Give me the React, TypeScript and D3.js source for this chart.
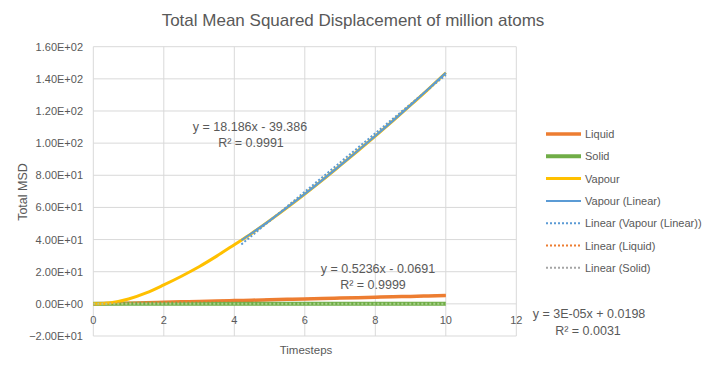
import React from 'react';
import * as d3 from 'd3';

// values
const steps = [0, 0.5, 1, 1.5, 2, 2.5, 3, 3.5, 4, 4.5, 5, 5.5, 6, 6.5, 7, 7.5, 8, 8.5, 9, 9.5, 10];
const liquid = [0, 0.2, 0.45, 0.72, 0.98, 1.24, 1.5, 1.77, 2.03, 2.29, 2.55, 2.81, 3.07, 3.34, 3.6, 3.86, 4.12, 4.38, 4.65, 4.91, 5.17];
const solid = [0.0, 0.02, 0.02, 0.021, 0.02, 0.019, 0.02, 0.021, 0.02, 0.02, 0.019, 0.02, 0.021, 0.02, 0.02, 0.02, 0.021, 0.02, 0.02, 0.02, 0.02];
const vapour = [0, 0.7, 3, 6.8, 11.8, 17.2, 23.1, 29.7, 36.8, 44, 51.8, 59.9, 68.3, 77, 86, 95.1, 104.4, 113.9, 123.6, 133.5, 143.8];
const vapourLinX = [4.2, 5, 6, 7, 8, 9, 10];
const vapourLin = [39.6, 51.8, 68.3, 86, 104.4, 123.6, 143.8];

// trendlines: [slope, intercept, xFrom, xTo]
const trendVapour = [18.186, -39.386, 4.2, 10];
const trendLiquid = [0.5236, -0.0691, 0, 10];
const trendSolid = [0.00003, 0.0198, 0, 10];

const xTicks = [0, 2, 4, 6, 8, 10, 12];
const yTicks = [-20, 0, 20, 40, 60, 80, 100, 120, 140, 160];

const legendItems = [
  { name: 'Liquid', color: '#ED7D31', w: 3.5, dash: '' },
  { name: 'Solid', color: '#70AD47', w: 4, dash: '' },
  { name: 'Vapour', color: '#FFC000', w: 3, dash: '' },
  { name: 'Vapour (Linear)', color: '#5B9BD5', w: 2, dash: '' },
  { name: 'Linear (Vapour (Linear))', color: '#5B9BD5', w: 2, dash: '2,2' },
  { name: 'Linear (Liquid)', color: '#ED7D31', w: 2, dash: '2,2' },
  { name: 'Linear (Solid)', color: '#A5A5A5', w: 2, dash: '2,2' },
];

const FONT = '"Liberation Sans", Arial, sans-serif';
const GREY = '#595959';

export default function App() {
  const x = d3.scaleLinear().domain([0, 12]).range([93.3, 516.3]);
  const y = d3.scaleLinear().domain([-20, 160]).range([336, 46.7]);

  const line = d3.line<[number, number]>()
    .x(d => x(d[0]))
    .y(d => y(d[1]))
    .curve(d3.curveMonotoneX);

  const series = (xs: number[], ys: number[]) => line(xs.map((v, i) => [v, ys[i]] as [number, number])) || '';
  const trend = (t: number[]) => line([[t[2], t[0] * t[2] + t[1]], [t[3], t[0] * t[3] + t[1]]]) || '';

  return (
    <svg width={711} height={370} style={{ position: 'absolute', left: 0, top: 0, background: '#fff' }} fontFamily={FONT}>
      <text x={353} y={26} textAnchor="middle" fontSize={17} fill={GREY}>
        Total Mean Squared Displacement of million atoms
      </text>

      {/* gridlines */}
      {yTicks.map(t => (
        <line key={'gy' + t} x1={x(0)} x2={x(12)} y1={y(t)} y2={y(t)} stroke="#d9d9d9" strokeWidth={1} />
      ))}
      {xTicks.map(t => (
        <line key={'gx' + t} x1={x(t)} x2={x(t)} y1={y(-20)} y2={y(160)} stroke="#d9d9d9" strokeWidth={1} />
      ))}

      {/* tick labels */}
      {yTicks.map(t => (
        <text key={'ly' + t} x={83} y={y(t) + 4} textAnchor="end" fontSize={11} fill={GREY}>
          {d3.format('.2e')(t).replace('e', 'E').replace(/E([+-])(\d)$/, 'E$10$2')}
        </text>
      ))}
      {xTicks.map(t => (
        <text key={'lx' + t} x={x(t)} y={y(0) + 20} textAnchor="middle" fontSize={11} fill={GREY}>
          {t}
        </text>
      ))}

      <text x={306} y={354} textAnchor="middle" fontSize={11.5} fill={GREY}>Timesteps</text>
      <text transform="translate(27,192) rotate(-90)" textAnchor="middle" fontSize={12.5} fill={GREY}>Total MSD</text>

      {/* series */}
      <path d={series(steps, liquid)} fill="none" stroke="#ED7D31" strokeWidth={3.5} />
      <path d={series(steps, solid)} fill="none" stroke="#70AD47" strokeWidth={4} />
      <path d={series(steps, vapour)} fill="none" stroke="#FFC000" strokeWidth={3} />
      <path d={series(vapourLinX, vapourLin)} fill="none" stroke="#5B9BD5" strokeWidth={2} />

      {/* trendlines */}
      <path d={trend(trendVapour)} fill="none" stroke="#5B9BD5" strokeWidth={2} strokeDasharray="2,2" />
      <path d={trend(trendLiquid)} fill="none" stroke="#ED7D31" strokeWidth={2} strokeDasharray="2,2" />
      <path d={trend(trendSolid)} fill="none" stroke="#A9D18E" strokeWidth={2} strokeDasharray="2,2" />

      {/* trend labels */}
      <g fontSize={12.5} fill={GREY} textAnchor="middle">
        <text x={250} y={131}>y = 18.186x - 39.386</text>
        <text x={251} y={147}>R² = 0.9991</text>
        <text x={378} y={273}>y = 0.5236x - 0.0691</text>
        <text x={373} y={289}>R² = 0.9999</text>
        <text x={589} y={318}>y = 3E-05x + 0.0198</text>
        <text x={588} y={335}>R² = 0.0031</text>
      </g>

      {/* legend */}
      {legendItems.map((d, i) => (
        <g key={d.name} transform={`translate(0,${134 + i * 22.3})`}>
          <line x1={546} x2={581} y1={0} y2={0} stroke={d.color} strokeWidth={d.w} strokeDasharray={d.dash || undefined} />
          <text x={585} y={4} fontSize={11} fill={GREY}>{d.name}</text>
        </g>
      ))}
    </svg>
  );
}
